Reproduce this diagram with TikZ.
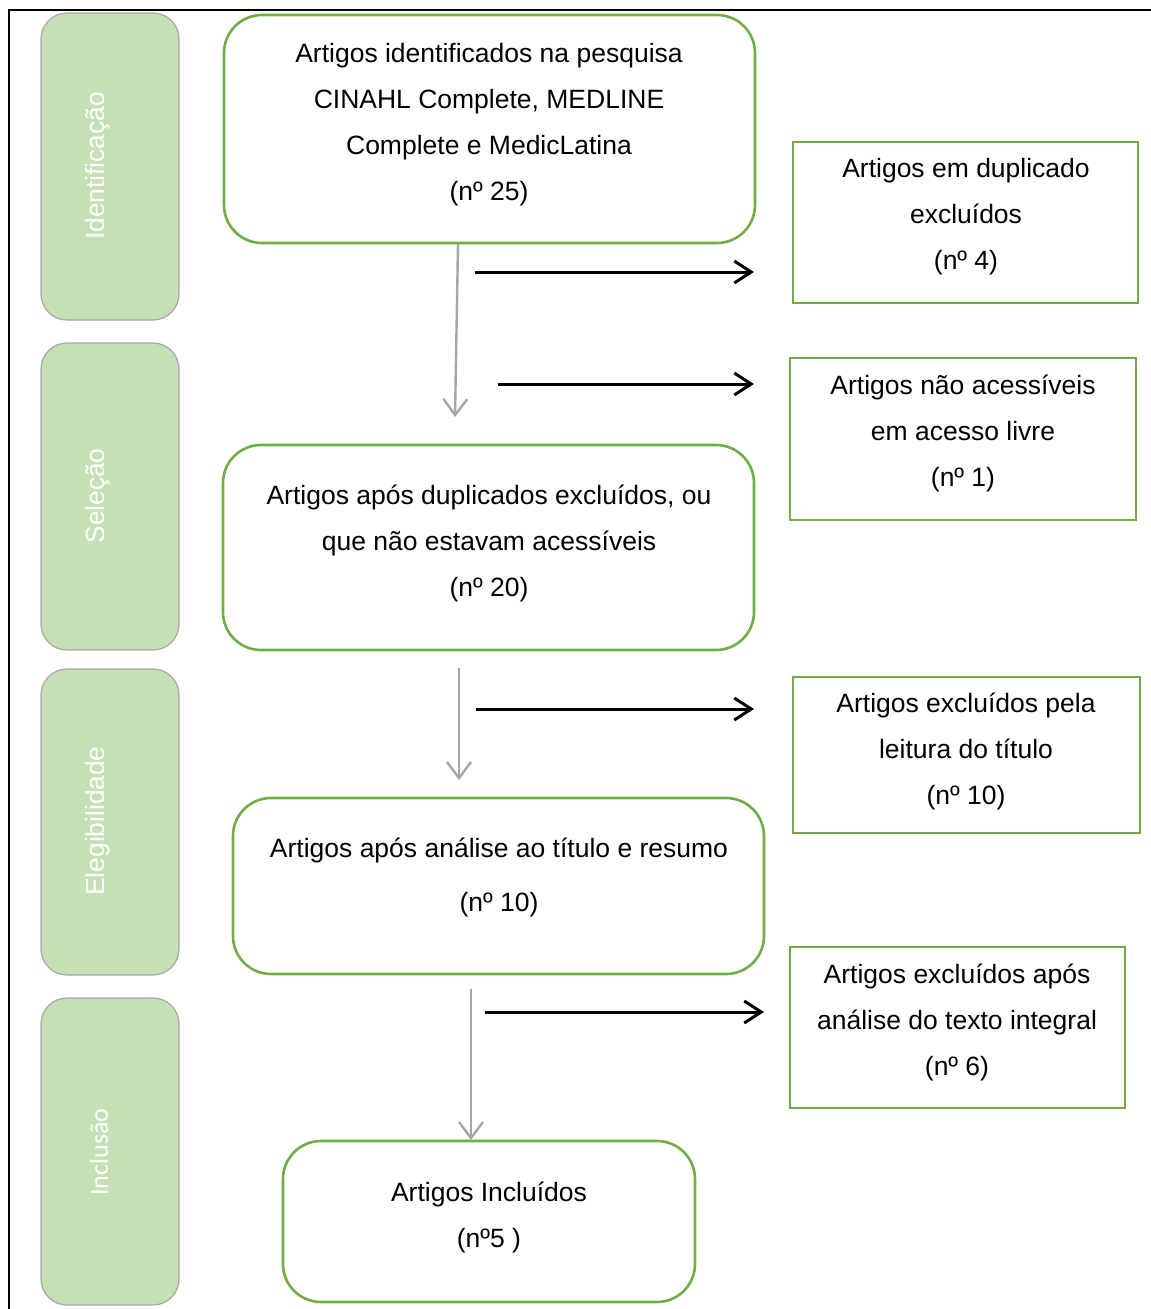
\documentclass[tikz,border=0pt]{standalone}
\usepackage{fontspec}
\setmainfont{Liberation Sans}
\newfontfamily\stagefont{Liberation Sans}
\newfontfamily\stagefontb{Carlito}
\usetikzlibrary{arrows.meta}
\definecolor{stagefill}{HTML}{C5E0B4}
\definecolor{stageedge}{HTML}{A6A6A6}
\definecolor{boxgreen}{HTML}{70AD47}
\definecolor{flowgray}{HTML}{A6A6A6}
\tikzset{
  stage/.style={draw=stageedge, line width=1.2pt, fill=stagefill, rounded corners=26pt,
    minimum width=138pt, inner sep=0pt},
  stagelabel/.style={rotate=90, text=white, font=\stagefont\fontsize{26.3}{30}\selectfont, inner sep=0pt},
  roundbox/.style={draw=boxgreen, line width=2.6pt, rounded corners=38pt, inner sep=0pt},
  squarebox/.style={draw=boxgreen, line width=2.6pt, inner sep=0pt},
  boxtext/.style={align=center, inner sep=0pt, font=\fontsize{26.5}{46}\selectfont},
  flow/.style={draw=flowgray, line width=2.4pt, -{Straight Barb[length=16pt,width=24pt,line width=2.4pt]}},
  exclude/.style={draw=black, line width=3pt, -{Straight Barb[length=17pt,width=22pt,line width=3pt]}}
}
\begin{document}
\begin{tikzpicture}[x=1pt, y=-1pt]
\useasboundingbox (0,0) rectangle (1151,1309);
% page frame
\coordinate (frameR) at (1151,10);
\coordinate (frameTL) at (9,10);
\coordinate (frameB) at (9,1309);
\draw[line width=2.4pt] (frameR) -- (frameTL) -- (frameB);

% stage bars on the left
\node[stage, minimum height=307pt] (s1) at (110,166.5) {};
\node[stage, minimum height=307pt] (s2) at (110,496.5) {};
\node[stage, minimum height=306pt] (s3) at (110,822) {};
\node[stage, minimum height=307pt] (s4) at (110,1151.5) {};
\node[stagelabel] (s1t) at (98,166) {Identificação};
\node[stagelabel] (s2t) at (98,496) {Seleção};
\node[stagelabel] (s3t) at (98,821) {Elegibilidade};
\node[stagelabel, font=\stagefontb\fontsize{26}{30}\selectfont] (s4t) at (99,1152) {Inclusão};

% main flow boxes
\node[roundbox, minimum width=531pt, minimum height=228pt] (A) at (489.5,129) {};
\node[boxtext] (At) at (489,125) {Artigos identificados na pesquisa\\CINAHL Complete, MEDLINE\\Complete e MedicLatina\\(nº 25)};
\node[roundbox, minimum width=531pt, minimum height=205pt] (B) at (488.5,547.5) {};
\node[boxtext] (Bt) at (489,543) {Artigos após duplicados excluídos, ou\\que não estavam acessíveis\\(nº 20)};
\node[roundbox, minimum width=531pt, minimum height=176pt] (C) at (498.5,886) {};
\node[boxtext, font=\fontsize{26.5}{54}\selectfont] (Ct) at (499,877) {Artigos após análise ao título e resumo\\(nº 10)};
\node[roundbox, minimum width=412pt, minimum height=161pt] (D) at (489,1221.5) {};
\node[boxtext] (Dt) at (489,1217.5) {Artigos Incluídos\\(nº5 )};

% excluded records
\node[squarebox, minimum width=345pt, minimum height=161pt] (E) at (965.5,222.5) {};
\node[boxtext] (Et) at (966,217) {Artigos em duplicado\\excluídos\\(nº 4)};
\node[squarebox, minimum width=346pt, minimum height=162pt] (F) at (963,439) {};
\node[boxtext] (Ft) at (963,433) {Artigos não acessíveis\\em acesso livre\\(nº 1)};
\node[squarebox, minimum width=347pt, minimum height=156pt] (G) at (966.5,755) {};
\node[boxtext] (Gt) at (966,751) {Artigos excluídos pela\\leitura do título\\(nº 10)};
\node[squarebox, minimum width=335pt, minimum height=161pt] (H) at (957.5,1027.5) {};
\node[boxtext] (Ht) at (957,1022) {Artigos excluídos após\\análise do texto integral\\(nº 6)};

% downward flow
\coordinate (d1s) at (458,244);
\coordinate (d1e) at (455,417);
\coordinate (d2s) at (459,668);
\coordinate (d2e) at (459,780);
\coordinate (d3s) at (471,989);
\coordinate (d3e) at (471,1140);
\draw[flow] (d1s) -- (d1e);
\draw[flow] (d2s) -- (d2e);
\draw[flow] (d3s) -- (d3e);

% exclusion arrows
\coordinate (e1s) at (475,272);
\coordinate (e1e) at (754,272);
\coordinate (e2s) at (498,384);
\coordinate (e2e) at (754,384);
\coordinate (e3s) at (476,709);
\coordinate (e3e) at (754,709);
\coordinate (e4s) at (485,1012);
\coordinate (e4e) at (764,1012);
\draw[exclude] (e1s) -- (e1e);
\draw[exclude] (e2s) -- (e2e);
\draw[exclude] (e3s) -- (e3e);
\draw[exclude] (e4s) -- (e4e);
\end{tikzpicture}
\end{document}
